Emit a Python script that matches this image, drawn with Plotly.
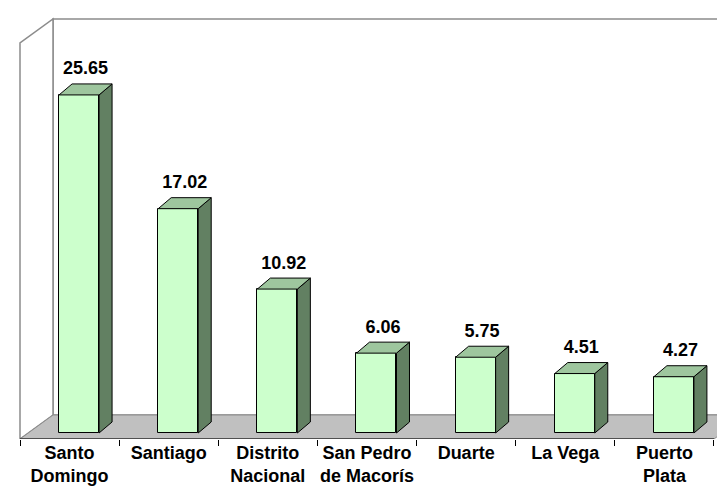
import plotly.graph_objects as go

# ---- data ----
categories = ["Santo<br>Domingo", "Santiago", "Distrito<br>Nacional",
              "San Pedro<br>de Macorís", "Duarte", "La Vega", "Puerto<br>Plata"]
values = [25.65, 17.02, 10.92, 6.06, 5.75, 4.51, 4.27]
value_labels = ["25.65", "17.02", "10.92", "6.06", "5.75", "4.51", "4.27"]

# ---- geometry (pixel -> data unit conversion) ----
PX_X = 99.14          # pixels per category
PX_Y = 13.18          # pixels per value unit
n = len(values)
xs = list(range(n))

bar_shift = 9.5 / PX_X        # bar front plane shift to the right
half_w = 20 / PX_X            # half width of bar front face
bdx, bdy = 13 / PX_X, 11 / PX_Y   # bar depth
FDX, FDY = 33 / PX_X, 24 / PX_Y   # full floor depth
y_floor = -6 / PX_Y               # floor front edge
y_wall_top = (425 - 35) / PX_Y    # wall top (front)

x_min = -0.5 - 12 / PX_X
x_max = x_min + 725 / PX_X
y_max = 425 / PX_Y

FRONT = "#CCFFCC"
TOP = "#9EC69E"
SIDE = "#628062"
EDGE = "black"
WALL = "#8C8C8C"
FONT = "Liberation Sans, Arial"

fig = go.Figure()

# front faces
fig.add_trace(go.Bar(
    x=[x + bar_shift for x in xs], y=values, width=2 * half_w,
    marker=dict(color=FRONT, line=dict(color=EDGE, width=1)),
    hoverinfo="skip", showlegend=False))

# top and side faces built from values
top_x, top_y, side_x, side_y = [], [], [], []
for x, v in zip(xs, values):
    xl = x + bar_shift - half_w
    xr = x + bar_shift + half_w
    top_x += [xl, xr, xr + bdx, xl + bdx, xl, None]
    top_y += [v, v, v + bdy, v + bdy, v, None]
    side_x += [xr, xr + bdx, xr + bdx, xr, xr, None]
    side_y += [0, bdy, v + bdy, v, 0, None]

fig.add_trace(go.Scatter(x=side_x, y=side_y, mode="lines", fill="toself",
                         fillcolor=SIDE, line=dict(color=EDGE, width=1),
                         hoverinfo="skip", showlegend=False))
fig.add_trace(go.Scatter(x=top_x, y=top_y, mode="lines", fill="toself",
                         fillcolor=TOP, line=dict(color=EDGE, width=1),
                         hoverinfo="skip", showlegend=False))

# value labels
fig.add_trace(go.Scatter(
    x=[x + bar_shift + bdx / 2 for x in xs],
    y=[v + bdy + 14 / PX_Y for v in values],
    mode="text", text=value_labels, textposition="middle center",
    textfont=dict(family=FONT, size=18, color="black", weight="bold"),
    hoverinfo="skip", showlegend=False))

# walls and floor (frame decoration)
x0 = -0.5
x1 = n - 0.5
shapes = [
    # back wall
    dict(type="path", layer="below",
         path=f"M {x0+FDX},{y_floor+FDY} L {x0+FDX},{y_wall_top+FDY} L {x1+FDX+1},{y_wall_top+FDY} L {x1+FDX+1},{y_floor+FDY} Z",
         xref="x", yref="y", fillcolor="white", line=dict(color=WALL, width=1.5)),
    # side wall
    dict(type="path", layer="below",
         path=f"M {x0},{y_floor} L {x0},{y_wall_top} L {x0+FDX},{y_wall_top+FDY} L {x0+FDX},{y_floor+FDY} Z",
         xref="x", yref="y", fillcolor="white", line=dict(color=WALL, width=1.5)),
    # floor
    dict(type="path", layer="below",
         path=f"M {x0},{y_floor} L {x1},{y_floor} L {x1+FDX},{y_floor+FDY} L {x0+FDX},{y_floor+FDY} Z",
         xref="x", yref="y", fillcolor="#C0C0C0", line=dict(color=WALL, width=1)),
    # floor front edge
    dict(type="line", layer="below", x0=x0, x1=x1, y0=y_floor, y1=y_floor,
         xref="x", yref="y", line=dict(color="#333333", width=1.5)),
]

fig.update_layout(
    width=725, height=487,
    margin=dict(l=0, r=0, t=0, b=56),
    paper_bgcolor="white", plot_bgcolor="white",
    shapes=shapes,
    bargap=0,
    xaxis=dict(range=[x_min, x_max], tickmode="array", tickvals=xs,
               ticktext=[f"<b>{c}</b>" for c in categories],
               ticks="", showgrid=False, zeroline=False, showline=False,
               ticklabelstandoff=1,
               tickfont=dict(family=FONT, size=18, color="black"),
               minor=dict(tickmode="array", tickvals=[i - 0.5 for i in range(n + 1)],
                          ticks="outside", ticklen=6, tickcolor="black", tickwidth=1,
                          showgrid=False),
               fixedrange=True),
    yaxis=dict(range=[y_floor, y_max], visible=False, fixedrange=True),
    font=dict(family=FONT, size=18, color="black"),
)

fig.write_html("out.html")
